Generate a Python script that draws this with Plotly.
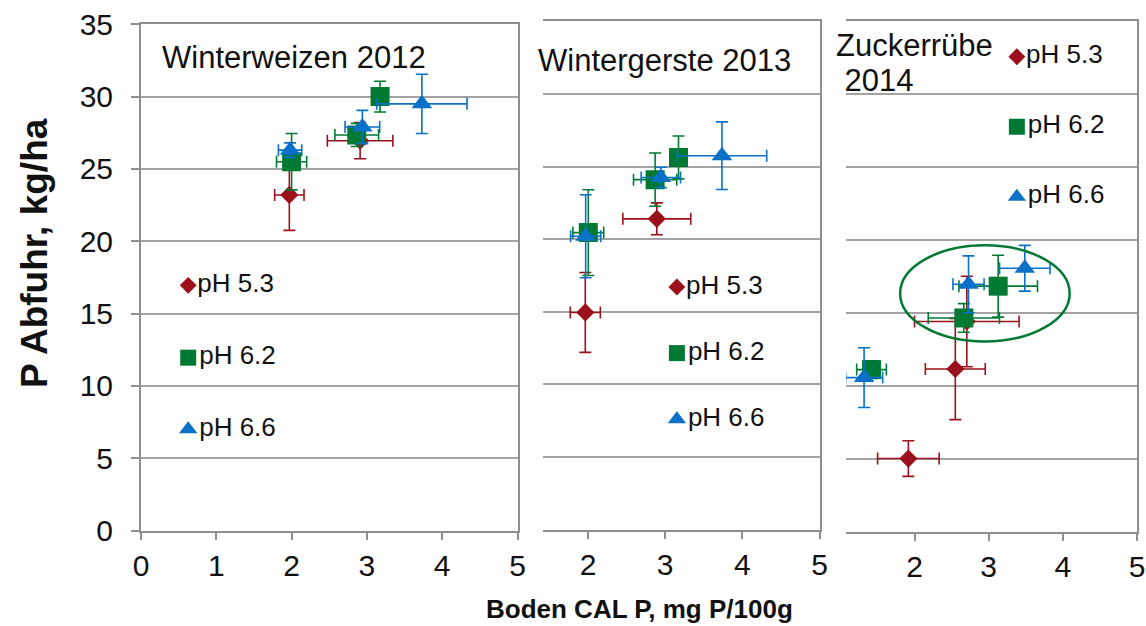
import plotly.graph_objects as go

# ---- data: soil CAL-P (x) vs. P removal (y), mean ± error, per pH level ----
# Winterweizen 2012
ww_x_53 = [1.97, 2.91]
ww_y_53 = [23.2, 26.95]
ww_ex_53 = [0.195, 0.435]
ww_ey_53 = [2.45, 1.25]

ww_x_62 = [2.00, 2.865, 3.175]
ww_y_62 = [25.5, 27.35, 30.0]
ww_ex_62 = [0.2, 0.29, 0.05]
ww_ey_62 = [1.95, 0.8, 1.06]

ww_x_66 = [1.98, 2.94, 3.73]
ww_y_66 = [26.3, 27.9, 29.5]
ww_ex_66 = [0.155, 0.23, 0.6]
ww_ey_66 = [0.5, 1.15, 2.05]

# Wintergerste 2013
wg_x_53 = [1.965, 2.892]
wg_y_53 = [14.95, 21.4]
wg_ex_53 = [0.195, 0.44]
wg_ey_53 = [2.75, 1.1]

wg_x_62 = [2.004, 2.87, 3.173]
wg_y_62 = [20.45, 24.1, 25.63]
wg_ex_62 = [0.2, 0.28, 0.05]
wg_ey_62 = [2.95, 1.83, 1.48]

wg_x_66 = [1.97, 2.944, 3.736]
wg_y_66 = [20.2, 24.25, 25.75]
wg_ex_66 = [0.195, 0.255, 0.58]
wg_ey_66 = [2.86, 0.7, 2.33]

# Zuckerrübe 2014
zr_x_53 = [1.917, 2.55, 2.705]
zr_y_53 = [5.0, 11.14, 14.4]
zr_ex_53 = [0.415, 0.404, 0.705]
zr_ey_53 = [1.22, 3.47, 3.1]

zr_x_62 = [1.42, 2.665, 3.128]
zr_y_62 = [11.1, 14.64, 16.82]
zr_ex_62 = [0.2, 0.48, 0.53]
zr_ey_62 = [0.6, 0.98, 2.12]

zr_x_66 = [1.32, 2.728, 3.487]
zr_y_66 = [10.55, 16.95, 18.05]
zr_ex_66 = [0.25, 0.21, 0.34]
zr_ey_66 = [2.05, 1.95, 1.57]

# highlighted group in Zuckerrübe panel (ellipse bounds)
zr_ellipse_x = [1.806, 4.092]
zr_ellipse_y = [13.03, 19.62]

# in-panel legend entries: label, x, y per panel
legend_labels = ["pH 5.3", "pH 6.2", "pH 6.6"]
legend_x = [0.627, 3.152, 3.38]
legend_y_ww = [16.95, 11.95, 7.0]
legend_y_wg = [16.7, 12.15, 7.6]
legend_y_zr = [32.55, 27.75, 22.95]

panel_titles = ["Winterweizen 2012", "Wintergerste 2013", "Zuckerrübe", "\u00a02014"]
y_title = "P Abfuhr, kg/ha"
x_title = "Boden CAL P, mg P/100g"
y_ticks = [0, 5, 10, 15, 20, 25, 30, 35]
x_ticks_first = [0, 1, 2, 3, 4, 5]
x_ticks_other = [2, 3, 4, 5]

# ---- styling ----
W, H = 1146, 626
RED, GREEN, BLUE = "#9B111B", "#007A33", "#0A70C8"
colors = [RED, GREEN, BLUE]
symbols = ["diamond", "square", "triangle-up"]
main_sizes = [14, 19, 18]
legend_sizes = [13, 16, 16]
FONT = "Liberation Sans, Arial, sans-serif"
GRID = "#a3a3a3"
AXLINE = "#8f8f8f"

fig = go.Figure()

panels = [
    ("x", "y", [(ww_x_53, ww_y_53, ww_ex_53, ww_ey_53),
                (ww_x_62, ww_y_62, ww_ex_62, ww_ey_62),
                (ww_x_66, ww_y_66, ww_ex_66, ww_ey_66)], legend_x[0], legend_y_ww),
    ("x2", "y2", [(wg_x_53, wg_y_53, wg_ex_53, wg_ey_53),
                  (wg_x_62, wg_y_62, wg_ex_62, wg_ey_62),
                  (wg_x_66, wg_y_66, wg_ex_66, wg_ey_66)], legend_x[1], legend_y_wg),
    ("x3", "y3", [(zr_x_53, zr_y_53, zr_ex_53, zr_ey_53),
                  (zr_x_62, zr_y_62, zr_ex_62, zr_ey_62),
                  (zr_x_66, zr_y_66, zr_ex_66, zr_ey_66)], legend_x[2], legend_y_zr),
]

for xa, ya, series, lx, ly in panels:
    for i, (xs, ys, exs, eys) in enumerate(series):
        fig.add_trace(go.Scatter(
            x=xs, y=ys, xaxis=xa, yaxis=ya, mode="markers", showlegend=False,
            marker=dict(symbol=symbols[i], size=main_sizes[i], color=colors[i]),
            error_x=dict(type="data", array=exs, color=colors[i], thickness=1.6, width=6),
            error_y=dict(type="data", array=eys, color=colors[i], thickness=1.6, width=6),
        ))
    for i in range(3):
        fig.add_trace(go.Scatter(
            x=[lx], y=[ly[i]], xaxis=xa, yaxis=ya, mode="markers+text", showlegend=False,
            marker=dict(symbol=symbols[i], size=legend_sizes[i], color=colors[i]),
            text=[legend_labels[i]], textposition="middle right",
            textfont=dict(family=FONT, size=26, color="#111111"),
        ))

fig.add_shape(type="circle", xref="x3", yref="y3",
              x0=zr_ellipse_x[0], x1=zr_ellipse_x[1],
              y0=zr_ellipse_y[0], y1=zr_ellipse_y[1],
              line=dict(color=GREEN, width=2.5))


def px(v):
    return v / W


def py(v):
    return (H - v) / H


tickfont = dict(family=FONT, size=30, color="#111111")
common_x = dict(showgrid=False, zeroline=False, showline=True, linecolor=AXLINE, linewidth=2,
                mirror=True, ticks="outside", ticklen=7, tickcolor=AXLINE, tickwidth=1.5,
                tickfont=tickfont, ticklabelstandoff=0, automargin=False,
                ticklabeloverflow="allow")
common_y = dict(range=[0, 35], showgrid=True, gridcolor=GRID, gridwidth=1.5, zeroline=False,
                tickvals=y_ticks, automargin=False)

fig.update_layout(
    width=W, height=H, margin=dict(l=0, r=0, t=0, b=0, autoexpand=False),
    paper_bgcolor="white", plot_bgcolor="white", showlegend=False,
    xaxis=dict(domain=[px(141), px(517.5)], range=[0, 5], tickvals=x_ticks_first, anchor="y", **common_x),
    yaxis=dict(domain=[py(530.5), py(24.3)], anchor="x", showline=True, linecolor=AXLINE, linewidth=2,
               mirror=True, ticks="outside", ticklen=8, tickcolor=AXLINE, tickwidth=1.5,
               tickfont=tickfont, ticklabelstandoff=12, **common_y),
    xaxis2=dict(domain=[px(543), px(819.5)], range=[1.417, 5], tickvals=x_ticks_other, anchor="y2", **common_x),
    yaxis2=dict(domain=[py(529.5), py(21.4)], anchor="x2", showline=True, side="right", linecolor=AXLINE,
                linewidth=2, showticklabels=False, ticks="", **common_y),
    xaxis3=dict(domain=[px(846), px(1137)], range=[1.076, 5], tickvals=x_ticks_other, anchor="y3", **common_x),
    yaxis3=dict(domain=[py(531.5), py(21)], anchor="x3", showline=True, side="right", linecolor=AXLINE,
                linewidth=2, showticklabels=False, ticks="", **common_y),
)

title_font = dict(family=FONT, size=31, color="#111111")
fig.add_annotation(text=panel_titles[0], xref="paper", yref="paper", x=px(160), y=py(58),
                   xanchor="left", yanchor="middle", showarrow=False, font=title_font)
fig.add_annotation(text=panel_titles[1], xref="paper", yref="paper", x=px(536), y=py(60),
                   xanchor="left", yanchor="middle", showarrow=False, font=title_font)
fig.add_annotation(text=panel_titles[2], xref="paper", yref="paper", x=px(834), y=py(46),
                   xanchor="left", yanchor="middle", showarrow=False, font=title_font)
fig.add_annotation(text=panel_titles[3], xref="paper", yref="paper", x=px(834), y=py(81),
                   xanchor="left", yanchor="middle", showarrow=False, font=title_font)

fig.add_annotation(text="<b>" + y_title + "</b>", xref="paper", yref="paper", x=px(35), y=py(253),
                   xanchor="center", yanchor="middle", textangle=-90, showarrow=False,
                   font=dict(family=FONT, size=37, color="#111111"))
fig.add_annotation(text="<b>" + x_title + "</b>", xref="paper", yref="paper", x=px(639), y=py(609),
                   xanchor="center", yanchor="middle", showarrow=False,
                   font=dict(family=FONT, size=26, color="#111111"))

fig.write_html("out.html")
